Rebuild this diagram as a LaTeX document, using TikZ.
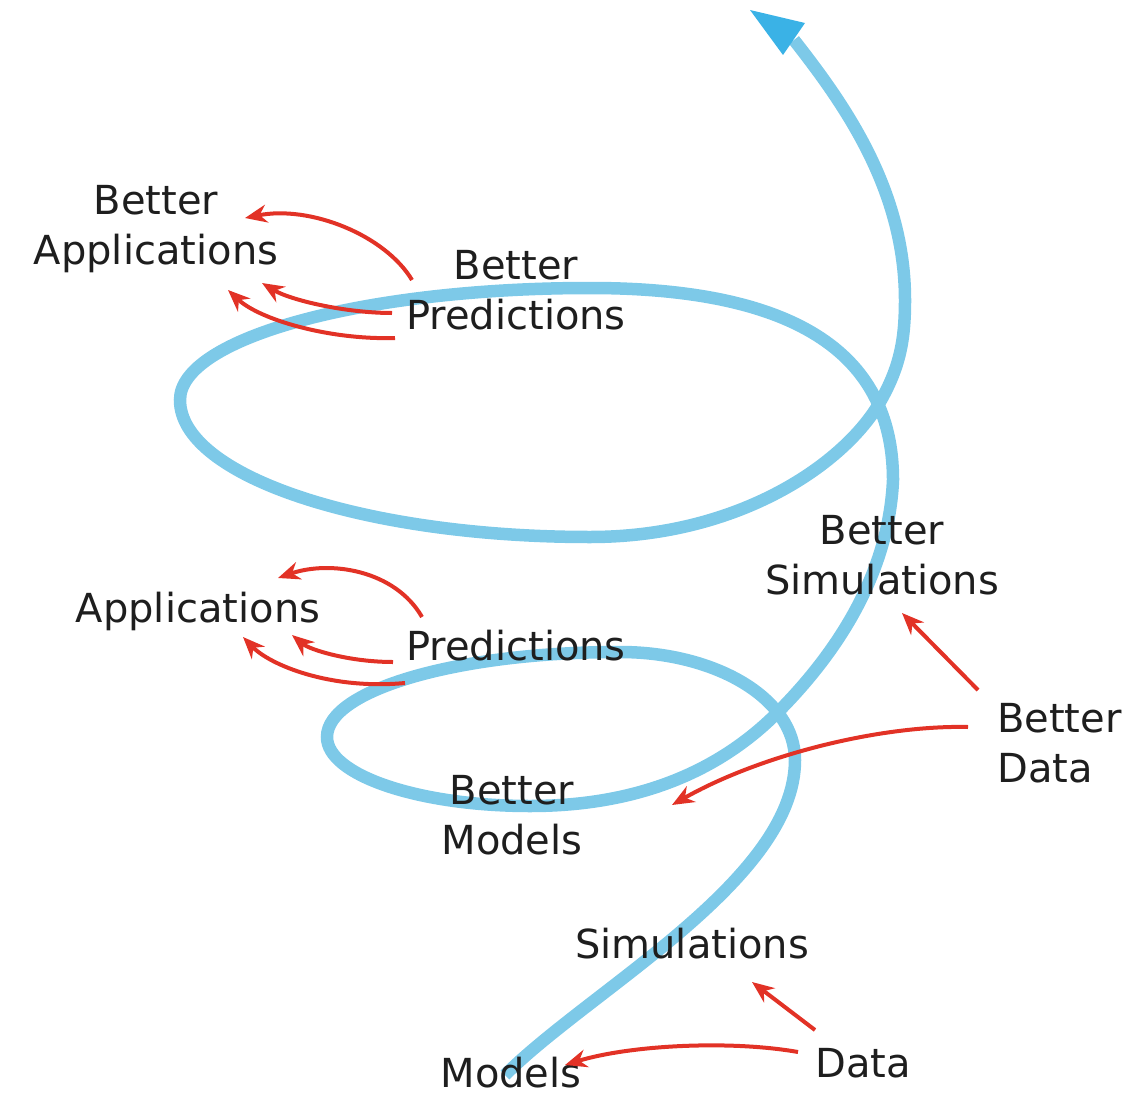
\documentclass[tikz,border=0pt]{standalone}
\usepackage{fontspec}
\setmainfont{DejaVu Sans}
\usetikzlibrary{arrows.meta}

\definecolor{spiralblue}{RGB}{125,201,232}
\definecolor{tipblue}{RGB}{58,178,230}
\definecolor{feedred}{RGB}{226,50,38}
\definecolor{textgray}{RGB}{30,30,30}

\begin{document}
\begin{tikzpicture}[x=1pt,y=-1pt,
    spiral/.style={line width=12.5pt,draw=spiralblue},
    feed/.style={line width=4pt,draw=feedred,-{Stealth[length=22pt,width=18pt]}},
    stage/.style={font=\fontsize{40}{50}\selectfont,text=textgray,
      inner sep=0pt,align=center,anchor=north}]
  \useasboundingbox (0,0) rectangle (1148,1097);

  % Spiral, from the models at the bottom up to the arrow tip
  \draw[spiral] (505,1075) .. controls (590,990) and (795,880) .. (795,760)
    .. controls (795,698) and (715,652) .. (620,652)
    .. controls (458,652) and (327,690) .. (327,737)
    .. controls (327,775) and (418,806) .. (530,806)
    .. controls (640,806) and (720,770) .. (777,713)
    .. controls (841,649) and (889,570) .. (893,480)
    .. controls (893,350) and (790,288) .. (590,288)
    .. controls (364,288) and (180,338) .. (180,400)
    .. controls (180,476) and (364,537) .. (590,537)
    .. controls (740,537) and (845,463) .. (880,402)
    .. controls (900,367) and (905,340) .. (905,300)
    .. controls (905,190) and (845,105) .. (794,40);
  \fill[tipblue] (750,10) -- (805,23) -- (783,55) -- cycle;

  % label stages
  \node[stage] (bapp) at (156,185) {Better\\Applications};
  \node[stage] (bpred) at (516,250) {Better\\Predictions};
  \node[stage] (bsim) at (882,515) {Better\\Simulations};
  \node[stage] (app) at (198,592) {Applications};
  \node[stage] (pred) at (516,630) {Predictions};
  \node[stage] (bmod) at (512,775) {Better\\Models};
  \node[stage] (sim) at (692,928) {Simulations};
  \node[stage,align=left,anchor=north west] (bdata) at (997,703) {Better\\Data};
  \node[stage,anchor=north west] (data) at (815,1048) {Data};
  \node[stage] (mod) at (511,1057) {Models};

  % Coordinates of the feed arrows
  \coordinate (bpredA) at (412,280);  \coordinate (bappA) at (245,218);
  \coordinate (bpredB) at (392,313);  \coordinate (bappB) at (262,283);
  \coordinate (bpredC) at (395,338);  \coordinate (bappC) at (228,290);
  \coordinate (predA) at (422,617);   \coordinate (appA) at (278,578);
  \coordinate (predB) at (393,662);   \coordinate (appB) at (292,635);
  \coordinate (predC) at (405,683);   \coordinate (appC) at (243,637);
  \coordinate (bdataA) at (978,690);  \coordinate (bsimA) at (902,613);
  \coordinate (bdataB) at (968,727);  \coordinate (bmodA) at (672,805);
  \coordinate (dataA) at (815,1030);  \coordinate (simA) at (752,982);
  \coordinate (dataB) at (798,1052);  \coordinate (modA) at (565,1065);

  % connecting the stages
  \draw[feed] (bpredA) .. controls (385,235) and (310,205) .. (bappA);
  \draw[feed] (bpredB) .. controls (345,313) and (290,300) .. (bappB);
  \draw[feed] (bpredC) .. controls (330,340) and (260,320) .. (bappC);
  \draw[feed] (predA) .. controls (395,570) and (330,560) .. (appA);
  \draw[feed] (predB) .. controls (350,662) and (310,650) .. (appB);
  \draw[feed] (predC) .. controls (330,690) and (270,665) .. (appC);
  \draw[feed] (bdataA) -- (bsimA);
  \draw[feed] (bdataB) .. controls (880,725) and (760,755) .. (bmodA);
  \draw[feed] (dataA) -- (simA);
  \draw[feed] (dataB) .. controls (730,1040) and (630,1045) .. (modA);

\end{tikzpicture}
\end{document}
